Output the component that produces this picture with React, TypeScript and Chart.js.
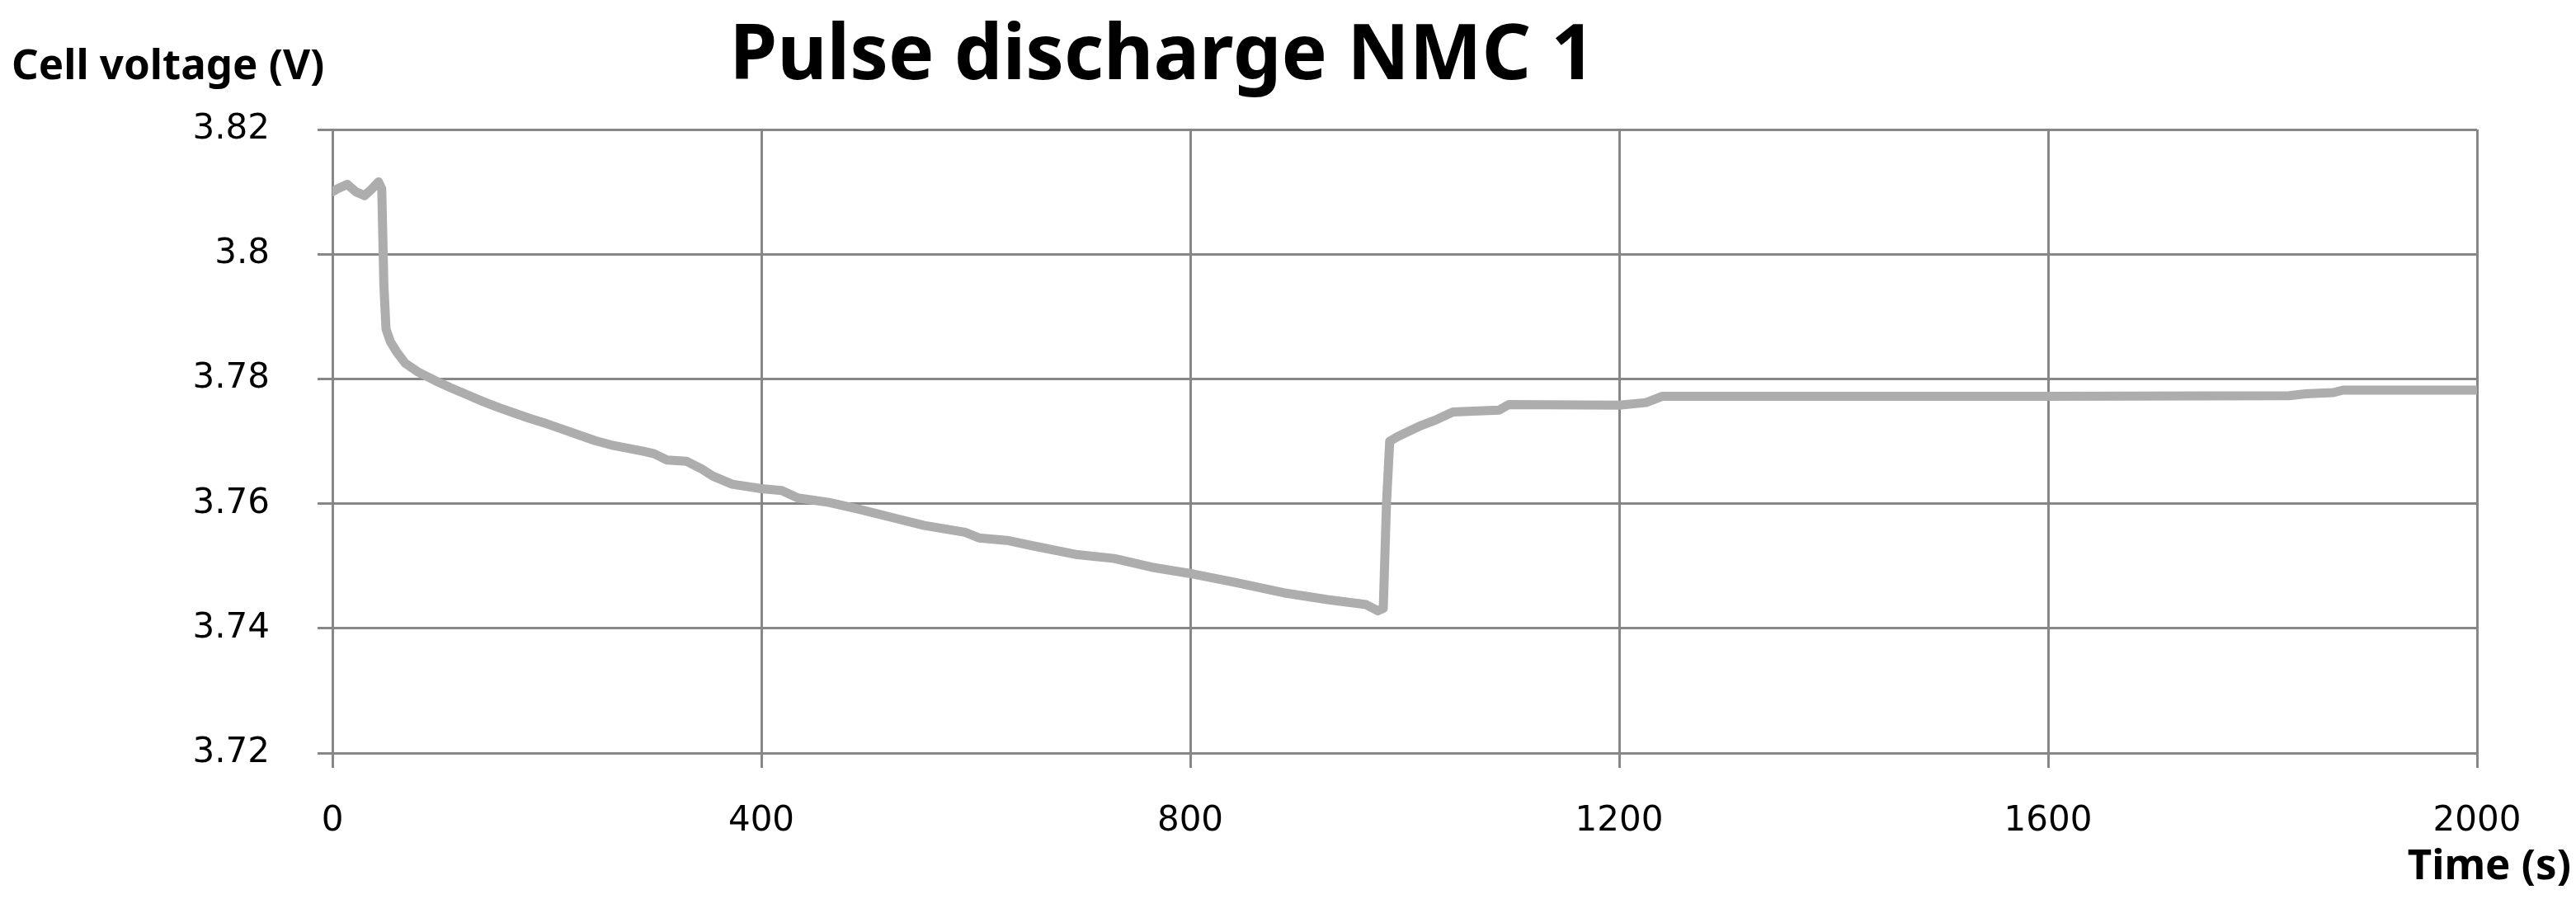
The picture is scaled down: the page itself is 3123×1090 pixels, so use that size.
import React, { useEffect, useRef } from "react";
import { Chart, registerables } from "chart.js";

Chart.register(...registerables);

const timeS = [
  0, 5, 14, 22, 30, 37, 43, 46, 48, 50, 54, 60, 68, 80, 95, 110, 125, 140, 155, 170,
  185, 200, 215, 230, 245, 260, 275, 290, 300, 312, 330, 345, 355, 373, 400, 419,
  434, 463, 491, 526, 552, 590, 603, 629, 654, 695, 729, 764, 803, 841, 887, 928,
  964, 975, 980, 983, 986, 994, 1015, 1030, 1045, 1088, 1097, 1200, 1225, 1240,
  1500, 1600, 1825, 1840, 1866, 1875, 2000,
];
const voltageV = [
  3.81, 3.8105, 3.8112, 3.81, 3.8094, 3.8105, 3.8116, 3.8105, 3.795, 3.788, 3.786,
  3.7843, 3.7825, 3.7811, 3.7798, 3.7786, 3.7775, 3.7764, 3.7754, 3.7745, 3.7736,
  3.7728, 3.7719, 3.771, 3.7701, 3.7694, 3.7689, 3.7684, 3.768, 3.767, 3.7668,
  3.7655, 3.7644, 3.7631, 3.7624, 3.7621, 3.7609, 3.7602, 3.7591, 3.7576, 3.7565,
  3.7554, 3.7545, 3.7541, 3.7532, 3.7518, 3.7512, 3.7498, 3.7487, 3.7474, 3.7457,
  3.7446, 3.7438, 3.7428, 3.7432, 3.76, 3.77, 3.7708, 3.7725, 3.7735, 3.7747,
  3.775, 3.7759, 3.7758, 3.7762, 3.7772, 3.7772, 3.7772, 3.7773, 3.7776, 3.7778,
  3.7782, 3.7782,
];
const xTickValues = [0, 400, 800, 1200, 1600, 2000];
const yTickValues = [3.72, 3.74, 3.76, 3.78, 3.8, 3.82];
const titleText = "Pulse discharge NMC 1";
const yAxisLabel = "Cell voltage (V)";
const xAxisLabel = "Time (s)";

const W = 3123;
const H = 1090;
const GRID = "#878787";

export default function App() {
  const ref = useRef<HTMLCanvasElement>(null);

  useEffect(() => {
    document.body.style.margin = "0";
    if (!ref.current) return;

    const labelsPlugin = {
      id: "textLabels",
      afterDraw(chart: any) {
        const ctx = chart.ctx;
        ctx.save();
        ctx.fillStyle = "#000";
        ctx.textBaseline = "alphabetic";
        ctx.font = "bold 93px 'Noto Sans'";
        ctx.textAlign = "center";
        ctx.fillText(titleText, 1409, 96);
        ctx.font = "bold 51px 'Noto Sans'";
        ctx.textAlign = "left";
        ctx.fillText(yAxisLabel, 14, 96);
        ctx.textAlign = "right";
        ctx.fillText(xAxisLabel, 3117, 1066);
        ctx.restore();
      },
    };

    const chart = new Chart(ref.current, {
      type: "line",
      data: {
        datasets: [
          {
            data: timeS.map((t, i) => ({ x: t, y: voltageV[i] })),
            borderColor: "#adadad",
            borderWidth: 11,
            pointRadius: 0,
            tension: 0,
            borderJoinStyle: "round",
            borderCapStyle: "round",
            fill: false,
          },
        ],
      },
      options: {
        animation: false,
        responsive: false,
        devicePixelRatio: 1,
        layout: { padding: { top: 157, right: 120, left: 0, bottom: 0 } },
        plugins: {
          legend: { display: false },
          title: { display: false },
          tooltip: { enabled: false },
        },
        scales: {
          x: {
            type: "linear",
            min: 0,
            max: 2000,
            afterBuildTicks: (scale: any) => {
              scale.ticks = xTickValues.map((v) => ({ value: v }));
            },
            afterFit: (scale: any) => {
              scale.height = H - 913;
            },
            ticks: {
              color: "#000",
              font: { family: "'DejaVu Sans'", size: 42 },
              padding: 40,
              maxRotation: 0,
              callback: (v: any) => String(v),
            },
            grid: {
              color: GRID,
              lineWidth: 3,
              tickLength: 18,
              drawTicks: true,
            },
            border: { display: true, color: GRID, width: 3 },
          },
          y: {
            type: "linear",
            min: 3.72,
            max: 3.82,
            afterBuildTicks: (scale: any) => {
              scale.ticks = yTickValues.map((v) => ({ value: v }));
            },
            afterFit: (scale: any) => {
              scale.width = 403;
            },
            ticks: {
              color: "#000",
              font: { family: "'DejaVu Sans'", size: 42 },
              padding: 58,
              callback: (v: any) => String(Number(Number(v).toFixed(2))),
            },
            grid: {
              color: GRID,
              lineWidth: 3,
              tickLength: 18,
              drawTicks: true,
            },
            border: { display: true, color: GRID, width: 3 },
          },
        },
      },
      plugins: [labelsPlugin],
    } as any);

    return () => chart.destroy();
  }, []);

  return (
    <div style={{ position: "absolute", left: 0, top: 0, width: W, height: H, background: "#fff" }}>
      <canvas ref={ref} width={W} height={H} style={{ width: W, height: H, display: "block" }} />
    </div>
  );
}
